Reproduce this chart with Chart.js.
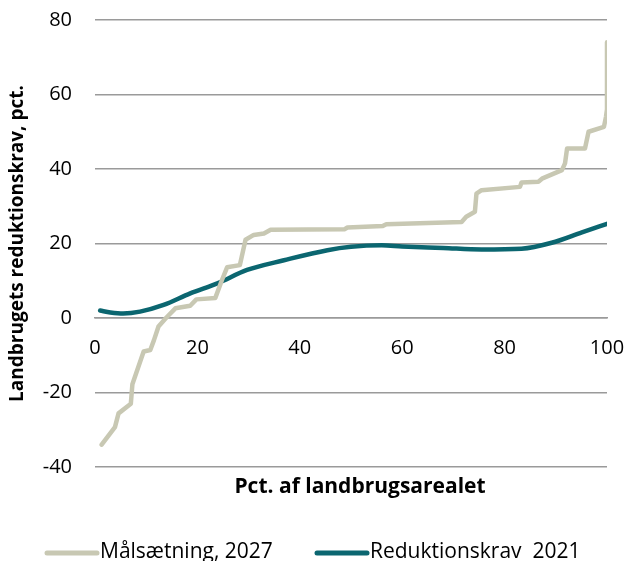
<!DOCTYPE html>
<html>
<head>
<meta charset="utf-8">
<script src="https://cdn.jsdelivr.net/npm/chart.js@4/dist/chart.umd.min.js"></script>
<style>
html,body{margin:0;padding:0;background:#fff;}
#wrap{width:626px;height:561px;}
</style>
</head>
<body>
<div id="wrap"><canvas id="c" width="626" height="561"></canvas></div>
<script>
// ---- data ----
const seriesNames = ["Målsætning, 2027", "Reduktionskrav  2021"];
const goalX = [1.3, 3.9, 4.6, 7.0, 7.3, 9.5, 10.8, 11.5, 12.4, 14, 15.7, 18.6, 19.8, 23.5, 24.8, 25.8, 28.3, 29.4, 31, 33, 34.3, 48.7, 49.3, 56.2, 56.9, 71.6, 72.5, 74.2, 74.5, 75.5, 83, 83.3, 86.6, 87.3, 91.2, 91.8, 92.2, 95.7, 96.4, 99.4, 99.8, 100, 100];
const goalY = [-34, -29.3, -25.6, -23, -17.8, -9, -8.6, -6, -2.3, 0.2, 2.6, 3.3, 5, 5.4, 10.2, 13.6, 14.2, 21.0, 22.3, 22.7, 23.7, 23.8, 24.3, 24.7, 25.2, 25.8, 27.2, 28.5, 33.4, 34.3, 35.2, 36.4, 36.6, 37.4, 39.7, 41.5, 45.5, 45.5, 50, 51.3, 54, 56, 74];
const reqX = [1, 3, 5.5, 8.8, 13.4, 18.6, 23.9, 29.7, 36.9, 45.4, 50, 56, 60, 68, 75.5, 83.3, 89.2, 95.1, 100];
const reqY = [2, 1.5, 1.2, 1.7, 3.5, 6.6, 9.3, 12.9, 15.5, 18.2, 19.1, 19.5, 19.2, 18.8, 18.4, 18.6, 20.2, 23, 25.3];
const yTicks = [-40, -20, 0, 20, 40, 60, 80];
const xTicks = [0, 20, 40, 60, 80, 100];
const xTitle = "Pct. af landbrugsarealet";
const yTitle = "Landbrugets reduktionskrav, pct.";

const colGoal = "#c8c8b3";
const colReq = "#0b6670";
const FONT = "'Open Sans', Lato, sans-serif";

const toPts = (xs, ys) => xs.map((x, i) => ({x: x, y: ys[i]}));
const noPad = (s) => { s.paddingTop = 0; s.paddingBottom = 0; s.paddingLeft = 0; s.paddingRight = 0; };

const extraText = {
  id: "extraText",
  afterDraw(chart) {
    const ctx = chart.ctx;
    ctx.save();
    // x axis title
    ctx.fillStyle = "#000";
    ctx.font = "bold 21px " + FONT;
    ctx.textAlign = "center";
    ctx.textBaseline = "alphabetic";
    ctx.fillText(xTitle, 360, 493);
    // legend
    ctx.font = "21px " + FONT;
    ctx.textAlign = "left";
    const starts = [47, 317];
    const cols = [colGoal, colReq];
    const ly = 553;
    seriesNames.forEach((name, i) => {
      ctx.strokeStyle = cols[i];
      ctx.lineWidth = 5;
      ctx.lineCap = "round";
      ctx.beginPath();
      ctx.moveTo(starts[i], ly);
      ctx.lineTo(starts[i] + 50, ly);
      ctx.stroke();
      ctx.fillStyle = "#000";
      ctx.fillText(name, starts[i] + 53, 558);
    });
    ctx.restore();
  }
};

new Chart(document.getElementById("c"), {
  type: "line",
  data: {
    datasets: [
      {
        label: seriesNames[0],
        data: toPts(goalX, goalY),
        borderColor: colGoal,
        backgroundColor: colGoal,
        borderWidth: 4.5,
        pointRadius: 0,
        tension: 0,
        borderJoinStyle: "round",
        borderCapStyle: "round"
      },
      {
        label: seriesNames[1],
        data: toPts(reqX, reqY),
        borderColor: colReq,
        backgroundColor: colReq,
        borderWidth: 4.5,
        pointRadius: 0,
        cubicInterpolationMode: "monotone",
        borderCapStyle: "round"
      }
    ]
  },
  options: {
    responsive: false,
    animation: false,
    layout: {padding: {left: 0, top: 20, right: 19, bottom: 94}},
    plugins: {
      legend: {display: false},
      tooltip: {enabled: false}
    },
    scales: {
      x: {
        type: "linear",
        min: 0, max: 100,
        position: {y: 0},
        afterBuildTicks: (s) => { s.ticks = xTicks.map(v => ({value: v})); },
        afterFit: noPad,
        grid: {display: false, drawTicks: false},
        border: {display: true, color: "#9a9a9a", width: 1.5},
        ticks: {color: "#000", font: {family: FONT, size: 20}, padding: 18, maxRotation: 0}
      },
      y: {
        type: "linear",
        min: -40, max: 80,
        afterBuildTicks: (s) => { s.ticks = yTicks.map(v => ({value: v})); },
        afterFit: (s) => { s.width = 95; noPad(s); },
        grid: {color: "#9a9a9a", lineWidth: 1.5, drawTicks: false},
        border: {display: false},
        ticks: {color: "#000", font: {family: FONT, size: 20}, padding: 23},
        title: {display: true, text: yTitle, color: "#000", font: {family: FONT, size: 19, weight: "bold"}, padding: {top: 6, bottom: 0}}
      }
    }
  },
  plugins: [extraText]
});
</script>
</body>
</html>
